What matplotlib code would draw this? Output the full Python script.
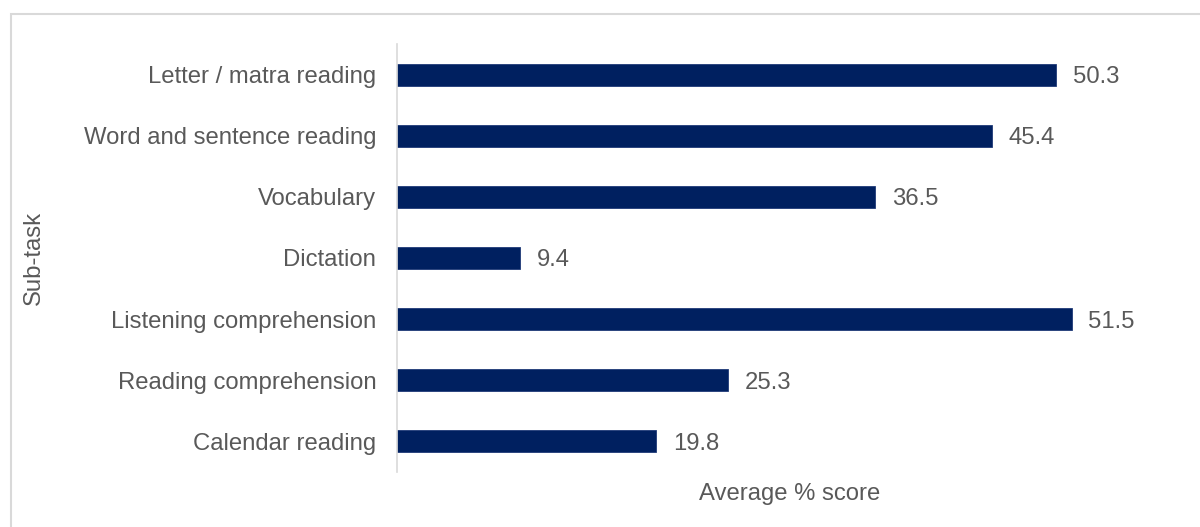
import matplotlib.pyplot as plt
from matplotlib.patches import Rectangle

plt.rcParams['font.family'] = ['Liberation Sans', 'DejaVu Sans']

subtasks = ['Letter / matra reading', 'Word and sentence reading', 'Vocabulary',
            'Dictation', 'Listening comprehension', 'Reading comprehension',
            'Calendar reading']
scores = [50.3, 45.4, 36.5, 9.4, 51.5, 25.3, 19.8]

text_color = '#595959'
bar_color = '#002060'

fig = plt.figure(figsize=(12, 5.27), dpi=100)
ax = fig.add_axes([0.3308, 0.1044, 0.655, 0.8121])

y = list(range(len(subtasks)))
bars = ax.barh(y, scores, height=0.36, color=bar_color, edgecolor='#1f3a78', linewidth=0.6)
ax.set_ylim(len(subtasks) - 0.5, -0.5)
ax.set_xlim(0, 60)

ax.set_yticks(y)
ax.set_yticklabels(subtasks, fontsize=17.2, color=text_color)
ax.tick_params(axis='y', length=0, pad=15)
ax.set_xticks([])

for s in ['top', 'right', 'bottom']:
    ax.spines[s].set_visible(False)
ax.spines['left'].set_color('#d9d9d9')
ax.spines['left'].set_linewidth(1.2)

for b, v in zip(bars, scores):
    ax.annotate(f'{v}', (v, b.get_y() + b.get_height() / 2), xytext=(12, 0),
                textcoords='offset points', va='center_baseline', ha='left',
                fontsize=17.2, color=text_color)

ax.set_xlabel('Average % score', fontsize=17.2, color=text_color, labelpad=8)
fig.text(34 / 1200, 1 - 258 / 527, 'Sub-task', rotation=90, fontsize=17.2,
         color=text_color, ha='center', va='center')

# light frame around the chart area
fig.patches.append(Rectangle((11 / 1200, -0.05), 1.1, 1 - 14 / 527 + 0.05,
                             transform=fig.transFigure, fill=False,
                             edgecolor='#d9d9d9', linewidth=1.5))

fig.savefig('out.png', dpi=100)
